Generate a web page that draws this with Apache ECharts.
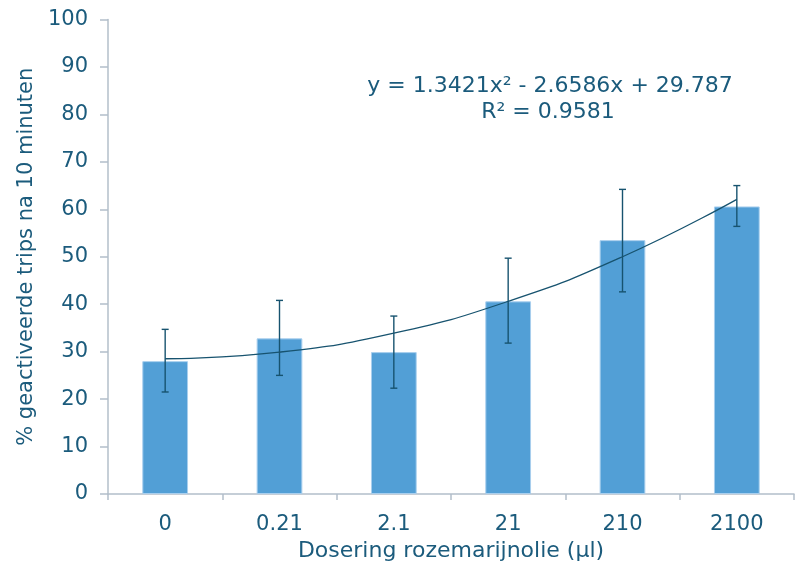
<!DOCTYPE html>
<html><head><meta charset="utf-8">
<script src="https://cdn.jsdelivr.net/npm/echarts@6/dist/echarts.min.js"></script>
<style>html,body{margin:0;padding:0;background:#fff}#c{width:797px;height:567px}</style>
</head><body><div id="c"></div>
<script>
const categories = ['0', '0.21', '2.1', '21', '210', '2100'];
const means = [28, 32.8, 29.9, 40.6, 53.5, 60.6];
const errLow = [21.5, 25, 22.3, 31.8, 42.6, 56.4];
const errHigh = [34.7, 40.8, 37.5, 49.7, 64.2, 65];
const trend = [28.5, 29.9, 33.9, 40.6, 50.0, 62.1];
const yTicks = {min: 0, max: 100, interval: 10};
const eqText = 'y = 1.3421x² - 2.6586x + 29.787';
const r2Text = 'R² = 0.9581';

const txt = '#1b5b7c';
const axisCol = '#b3bfca';
const font = 'DejaVu Sans';

const chart = echarts.init(document.getElementById('c'), null, {renderer: 'canvas'});
chart.setOption({
  animation: false,
  grid: {left: 108, right: 3, top: 19.5, bottom: 73},
  xAxis: {
    type: 'category', data: categories,
    axisLine: {lineStyle: {color: axisCol, width: 1.5}},
    axisTick: {show: true, length: 6, lineStyle: {color: axisCol, width: 1.5}},
    axisLabel: {color: txt, fontSize: 21, fontFamily: font, margin: 20},
    name: 'Dosering rozemarijnolie (µl)', nameLocation: 'middle', nameGap: 46,
    nameTextStyle: {color: txt, fontSize: 22, fontFamily: font}
  },
  yAxis: {
    type: 'value', min: yTicks.min, max: yTicks.max, interval: yTicks.interval,
    axisLine: {show: true, lineStyle: {color: axisCol, width: 1.5}},
    axisTick: {show: true, length: 8, lineStyle: {color: axisCol, width: 1.5}},
    splitLine: {show: false},
    axisLabel: {color: txt, fontSize: 21, fontFamily: font, margin: 20},
    name: '% geactiveerde trips na 10 minuten', nameLocation: 'middle', nameGap: 60,
    nameTextStyle: {color: txt, fontSize: 21, fontFamily: font}
  },
  graphic: [
    {type: 'text', x: 550, y: 86, style: {text: eqText, fill: txt, font: '22px "DejaVu Sans"', align: 'center', verticalAlign: 'middle'}},
    {type: 'text', x: 548, y: 112, style: {text: r2Text, fill: txt, font: '22px "DejaVu Sans"', align: 'center', verticalAlign: 'middle'}}
  ],
  series: [
    {
      type: 'bar', data: means, barCategoryGap: '60%',
      itemStyle: {color: '#529fd6', borderColor: '#a9cfee', borderWidth: 1}
    },
    {
      type: 'custom',
      data: categories.map((c, i) => [i, errLow[i], errHigh[i]]),
      renderItem: function (params, api) {
        const lo = api.coord([api.value(0), api.value(1)]);
        const hi = api.coord([api.value(0), api.value(2)]);
        const w = 3.5;
        const st = {stroke: '#17536f', lineWidth: 1.4};
        return {type: 'group', children: [
          {type: 'line', shape: {x1: lo[0], y1: lo[1], x2: hi[0], y2: hi[1]}, style: st},
          {type: 'line', shape: {x1: lo[0] - w, y1: lo[1], x2: lo[0] + w, y2: lo[1]}, style: st},
          {type: 'line', shape: {x1: hi[0] - w, y1: hi[1], x2: hi[0] + w, y2: hi[1]}, style: st}
        ]};
      },
      z: 5
    },
    {
      type: 'line', data: trend, smooth: true, symbol: 'none',
      lineStyle: {color: '#17536f', width: 1.3}, z: 4
    }
  ]
});
</script></body></html>
